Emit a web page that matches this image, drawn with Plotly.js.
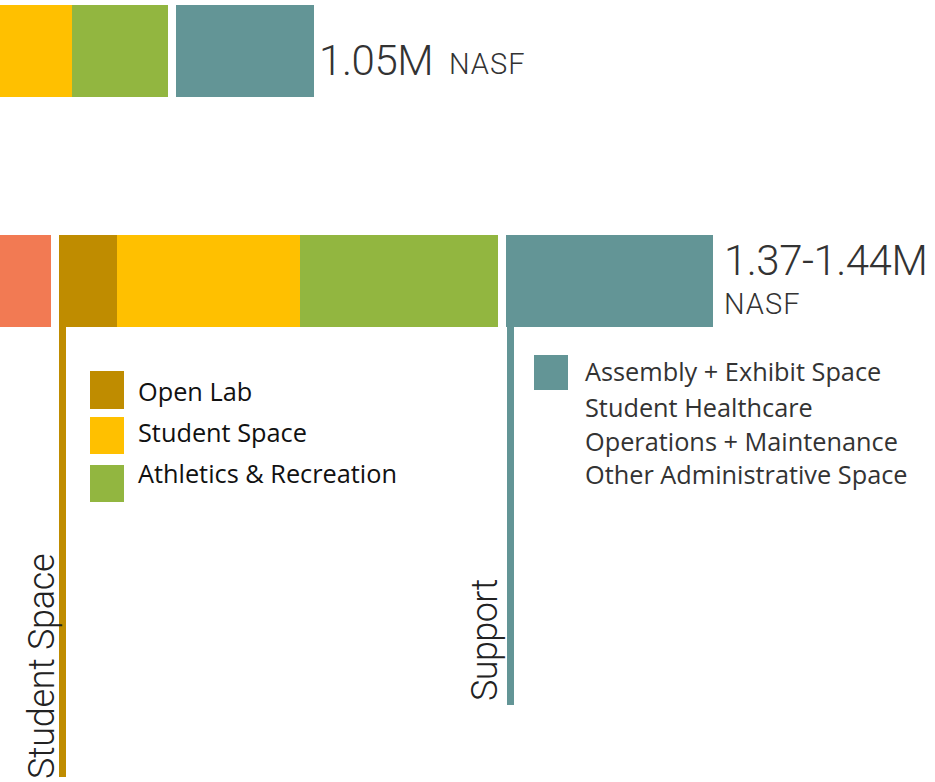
<!DOCTYPE html>
<html>
<head>
<meta charset="utf-8">
<script src="https://cdn.plot.ly/plotly-3.0.1.min.js"></script>
<style>html,body{margin:0;padding:0;background:#fff;}#chart{width:935px;height:782px;}</style>
</head>
<body>
<div id="chart"></div>
<script>
// ---- data (widths in NASF-proportional units, as drawn) ----
const rows = ['Existing', 'Projected'];
const otherSpace = [0, 51];
const openLab = [0, 58];
const studentSpace = [72, 183];
const athletics = [96, 198];
const support = [138, 207];
const totals = ['1.05M', '1.37-1.44M'];
const unitLabel = 'NASF';
const legendLeft = ['Open Lab', 'Student Space', 'Athletics & Recreation'];
const legendRight = ['Assembly + Exhibit Space', 'Student Healthcare', 'Operations + Maintenance', 'Other Administrative Space'];
const groupLabels = ['Student Space', 'Support'];

// ---- styles ----
const colors = {
  other: '#F27A53', open: '#BF8C00', student: '#FFC000', ath: '#92B640', support: '#639596'
};
const rowY = [51, 281];      // row centres (y axis in px-like units)
const barH = 92;
const gap = 8;
const head = 'Roboto, "Liberation Sans", sans-serif';
const body = '"Open Sans", "Noto Sans", sans-serif';

// compute bases through the stacked order with gaps between groups
const groups = [
  [{name: 'Other', vals: otherSpace, color: colors.other}],
  [{name: 'Open Lab', vals: openLab, color: colors.open},
   {name: 'Student Space', vals: studentSpace, color: colors.student},
   {name: 'Athletics & Recreation', vals: athletics, color: colors.ath}],
  [{name: 'Support', vals: support, color: colors.support}]
];
const traces = [];
const cursor = rows.map(() => 0);
const groupStart = [];
groups.forEach((g, gi) => {
  const starts = cursor.slice();
  g.forEach(seg => {
    const base = cursor.slice();
    traces.push({
      type: 'bar', orientation: 'h', name: seg.name,
      y: rowY, x: seg.vals, base: base, width: barH,
      marker: {color: seg.color, line: {width: 0}},
      showlegend: false, hoverinfo: 'name+x'
    });
    seg.vals.forEach((v, i) => { cursor[i] += v; });
  });
  groupStart.push(starts);
  const total = g.reduce((s, seg) => s.map((a, i) => a + seg.vals[i]), rows.map(() => 0));
  total.forEach((t, i) => { if (t > 0 && gi < groups.length - 1) cursor[i] += gap; });
});
const ends = cursor.slice();

const annotations = [];
const shapes = [];
const ann = (x, y, text, size, color, extra) => Object.assign({
  x: x, y: y, xref: 'x', yref: 'y', xanchor: 'left', yanchor: 'middle', text: text,
  showarrow: false, font: {family: head, size: size, color: color, weight: 300}
}, extra || {});

// totals
annotations.push(ann(ends[0] + 3, 60, '<span style="letter-spacing:-0.4px">' + totals[0] + '</span>', 42, '#333'));
annotations.push(ann(ends[0] + 133, 64, '<span style="letter-spacing:1px">' + unitLabel + '</span>', 29, '#333'));
annotations.push(ann(ends[1] + 9, 260, '<span style="letter-spacing:-0.5px">' + totals[1] + '</span>', 42, '#333'));
annotations.push(ann(ends[1] + 9, 304, '<span style="letter-spacing:1px">' + unitLabel + '</span>', 29, '#333'));

// vertical connector lines
const lineL = groupStart[1][1];
const lineR = groupStart[2][1];
shapes.push({type: 'rect', xref: 'x', yref: 'y', x0: lineL, x1: lineL + 7, y0: 327, y1: 777,
  fillcolor: colors.open, line: {width: 0}, layer: 'below'});
shapes.push({type: 'rect', xref: 'x', yref: 'y', x0: lineR + 1, x1: lineR + 8, y0: 327, y1: 705,
  fillcolor: colors.support, line: {width: 0}, layer: 'below'});

// group labels (rotated)
annotations.push(ann(42, 667, '<span style="letter-spacing:-0.3px">' + groupLabels[0] + '</span>', 36, '#222',
  {xanchor: 'center', textangle: -90}));
annotations.push(ann(485, 640, '<span style="letter-spacing:-0.6px">' + groupLabels[1] + '</span>', 36, '#222',
  {xanchor: 'center', textangle: -90}));

// left legend
const leftColors = [colors.open, colors.student, colors.ath];
const leftRows = [[371, 409], [417, 454], [465, 502]];
legendLeft.forEach((t, i) => {
  shapes.push({type: 'rect', xref: 'x', yref: 'y', x0: 90, x1: 124, y0: leftRows[i][0], y1: leftRows[i][1],
    fillcolor: leftColors[i], line: {width: 0}});
});
const leftTextY = [391, 432, 473];
legendLeft.forEach((t, i) => {
  annotations.push(ann(136, leftTextY[i], t, 25.3, '#111', {font: {family: body, size: 25.3, color: '#111'}}));
});

// right legend
shapes.push({type: 'rect', xref: 'x', yref: 'y', x0: 534, x1: 568, y0: 355, y1: 390,
  fillcolor: colors.support, line: {width: 0}});
const rightTextY = [371, 407, 441, 474];
legendRight.forEach((t, i) => {
  annotations.push(ann(583, rightTextY[i], t, 25.3, '#333', {font: {family: body, size: 25.3, color: '#333'}}));
});

const layout = {
  width: 935, height: 782,
  margin: {l: 0, r: 0, t: 0, b: 0, pad: 0},
  paper_bgcolor: '#fff', plot_bgcolor: '#fff',
  barmode: 'overlay',
  xaxis: {range: [0, 935], visible: false, fixedrange: true},
  yaxis: {range: [782, 0], visible: false, fixedrange: true},
  showlegend: false,
  annotations: annotations,
  shapes: shapes
};
Plotly.newPlot('chart', traces, layout, {staticPlot: true, displayModeBar: false});
</script>
</body>
</html>
